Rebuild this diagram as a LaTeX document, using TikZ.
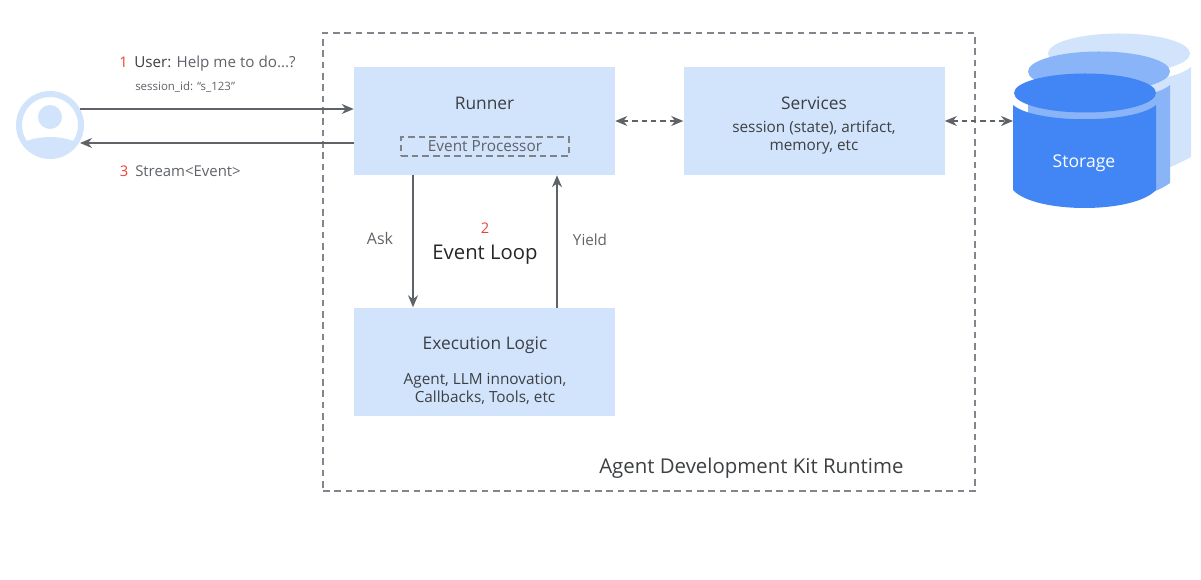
\documentclass[tikz,border=0pt]{standalone}
\usepackage{xcolor}
\usepackage{fontspec}
\setmainfont{Open Sans}
\usetikzlibrary{arrows.meta, positioning}
\definecolor{boxblue}{HTML}{D2E3FC}
\definecolor{midblue}{HTML}{8AB4F8}
\definecolor{deepblue}{HTML}{4285F4}
\definecolor{linegray}{HTML}{5F6368}
\definecolor{framegray}{HTML}{80868B}
\definecolor{darktext}{HTML}{3C4043}
\definecolor{stepred}{HTML}{EA4335}

\begin{document}
\begin{tikzpicture}[
    x=0.75pt, y=-0.75pt,
    node distance=99pt and 51pt,
    module/.style={fill=boxblue, minimum width=195.75pt, minimum height=81pt, inner sep=0pt},
    title/.style={font=\fontsize{13}{15}\selectfont, text=darktext, inner sep=0pt},
    detail/.style={font=\fontsize{11.5}{13.5}\selectfont, text=darktext, align=center, inner sep=0pt},
    note/.style={font=\fontsize{11.4}{13}\selectfont, text=linegray, inner sep=0pt},
    stepnum/.style={font=\fontsize{11}{13}\selectfont, text=stepred, inner sep=0pt},
    arrow/.style={-{Stealth[length=9pt, width=7.5pt]}, line width=0.9pt, linegray},
    dasharrow/.style={{Stealth[length=9pt, width=7.5pt]}-{Stealth[length=9pt, width=7.5pt]}, line width=0.9pt, linegray, dash pattern=on 4pt off 3pt},
    frame/.style={draw=framegray, line width=1pt, dash pattern=on 5pt off 3.5pt}
]
    \useasboundingbox (0,0) rectangle (1201,580);

    % Runtime frame
    \node[frame, minimum width=489pt, minimum height=343.5pt, inner sep=0pt] (runtime) at (649,262) {};
    \node[font=\fontsize{15.3}{18}\selectfont, text=darktext, anchor=west, inner sep=0pt] (runtimelabel) at (599,468) {Agent Development Kit Runtime};

    % Modules
    \node[module] (runner) at (484.5,121) {};
    \node[module, right=of runner] (services) {};
    \node[module, below=of runner] (logic) {};

    \node[title] (runnertitle) at (484.5,103) {Runner};
    \node[draw=linegray!80, line width=0.8pt, dash pattern=on 5pt off 3pt, minimum width=126pt, minimum height=14.25pt, inner sep=0pt,
          font=\fontsize{11.5}{13}\selectfont, text=linegray] (processor) at (485,146.5) {Event Processor};
    \node[title] (servicestitle) at (814,103) {Services};
    \node[detail] (servicestext) at (814,137) {session (state), artifact,\\memory, etc};
    \node[title] (logictitle) at (485,345) {Execution Logic};
    \node[detail] (logictext) at (485,389) {Agent, LLM innovation,\\Callbacks, Tools, etc};

    % User
    \begin{scope}
        \clip (50,125) circle (31);
        \fill[boxblue] (50,171) ellipse (50 and 34);
    \end{scope}
    \node[circle, draw=boxblue, line width=4.5pt, minimum size=46.5pt, inner sep=0pt] (user) at (50,125) {};
    \node[circle, fill=boxblue, minimum size=18pt, inner sep=0pt] (userhead) at (50,117) {};
    \coordinate (userout) at (80,109);
    \coordinate (userin) at (80,143);

    % Storage
    \fill[boxblue] (1048,67) .. controls (1070,87) and (1168,87) .. (1191,67) -- (1191,157) .. controls (1180,163) and (1170,168) .. (1150,174) -- (1048,174) -- cycle;
    \fill[boxblue] (1119,53.5) ellipse (71 and 20);
    \fill[midblue] (1028,85) .. controls (1050,104) and (1148,104) .. (1170,85) -- (1170,183) .. controls (1160,190) and (1150,194) .. (1130,198) -- (1028,198) -- cycle;
    \fill[midblue] (1099,71.5) ellipse (71 and 20);
    \fill[deepblue] (1013,105) .. controls (1035,124) and (1134,124) .. (1156,105) -- (1156,190) .. controls (1134,214) and (1035,214) .. (1013,190) -- cycle;
    \fill[deepblue] (1085,93) ellipse (71 and 19.5);
    \node[font=\fontsize{13.2}{15}\selectfont, text=white, inner sep=0pt] (storage) at (1084,163) {Storage};
    \coordinate (storageport) at (1013,120);

    % Labels
    \node[stepnum] (stepone) at (123.5,62) {1};
    \node[note, anchor=west] (request) at (134,63.5) {\textcolor{darktext}{User:} Help me to do...?};
    \node[note, anchor=west, font=\fontsize{8.6}{10}\selectfont] (session) at (135,87.5) {session\_id: “s\_123”};
    \node[stepnum] (stepthree) at (124,171) {3};
    \node[note, anchor=west, font=\fontsize{11.2}{13}\selectfont] (stream) at (135,171.5) {Stream<Event>};
    \node[note, font=\fontsize{12}{14}\selectfont] (ask) at (380,239) {Ask};
    \node[note] (yield) at (590,239.5) {Yield};
    \node[stepnum] (steptwo) at (485,228) {2};
    \node[font=\fontsize{15.2}{18}\selectfont, text=black!85, inner sep=0pt] (eventloop) at (485,255) {Event Loop};
    \coordinate (askstart) at (413,175);
    \coordinate (yieldstart) at (557,308);

    % Arrows
    \draw[arrow] (userout) -- (userout -| runner.west);
    \draw[arrow] (userin -| runner.west) -- (userin);
    \draw[arrow] (askstart) -- (askstart |- logic.north);
    \draw[arrow] (yieldstart) -- (yieldstart |- runner.south);
    \draw[dasharrow] (runner) -- (services);
    \draw[dasharrow] (services) -- (services -| storageport);
\end{tikzpicture}
\end{document}
